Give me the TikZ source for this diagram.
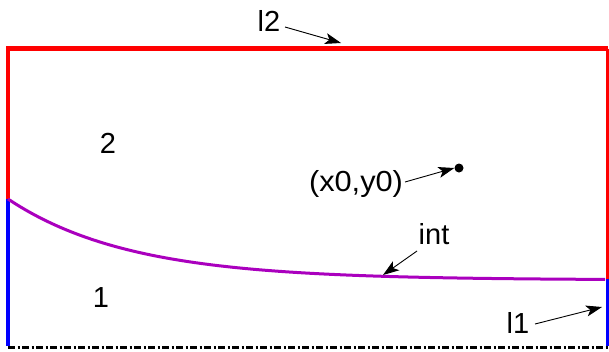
\documentclass[tikz,border=0pt]{standalone}
\usepackage{fontspec}
\setmainfont{Liberation Sans}
\usetikzlibrary{arrows.meta}
\definecolor{bred}{RGB}{255,0,0}
\definecolor{bblue}{RGB}{0,0,255}
\definecolor{bpurple}{RGB}{170,0,190}
\tikzset{
  lbl/.style={font=\fontsize{29}{32}\selectfont, inner sep=0pt, text=black},
  ptr/.style={draw=black, line width=0.9pt, -{Stealth[length=16pt,width=11pt,inset=4pt]}},
}
\begin{document}
\begin{tikzpicture}[x=1pt,y=-1pt]
\useasboundingbox (0,0) rectangle (609,351);
% boundary
\coordinate (tl) at (8,48.5);
\coordinate (tr) at (607.5,48.5);
\coordinate (lm) at (8,199);
\coordinate (rm) at (607.5,279);
\coordinate (lb) at (8,346);
\coordinate (rb) at (607.5,346);
\coordinate (bl) at (8,347.5);
\coordinate (br) at (607.5,347.5);
\draw[bred, line width=4.5pt] (lm) -- (tl) -- (tr);
\draw[bred, line width=2.5pt] (tr) -- (rm);
\draw[bblue, line width=4.5pt] (lm) -- (lb);
\draw[bblue, line width=2.5pt] (rm) -- (rb);
\draw[black, line width=3pt, dash pattern=on 7pt off 2.5pt on 2pt off 2.5pt] (bl) -- (br);
% interface
\draw[bpurple, line width=3pt] plot[domain=8:605, samples=120, smooth] (\x, {280-81*exp(-(\x-8)/121.5)});
% labels
\node[lbl] (l2) at (269,21) {l2};
\node[lbl] (r2) at (108,143) {2};
\node[lbl] (r1) at (101,298) {1};
\node[lbl] (xy) at (356,184) {\scalebox{1.06}[1]{(x0,y0)}};
\node[lbl] (int) at (434,234) {int};
\node[lbl] (l1) at (518,323) {l1};
\node[circle, fill=black, inner sep=0pt, minimum size=9pt] (dot) at (459,168) {};
% pointer ends
\coordinate (l2s) at (285,27);
\coordinate (l2t) at (341,43);
\coordinate (xys) at (405,182);
\coordinate (ints) at (417,251);
\coordinate (intt) at (383,275);
\coordinate (l1s) at (535,324);
\coordinate (l1t) at (602,307);
\draw[ptr] (l2s) -- (l2t);
\draw[ptr] (xys) -- (dot.west);
\draw[ptr] (ints) -- (intt);
\draw[ptr] (l1s) -- (l1t);
\end{tikzpicture}
\end{document}
